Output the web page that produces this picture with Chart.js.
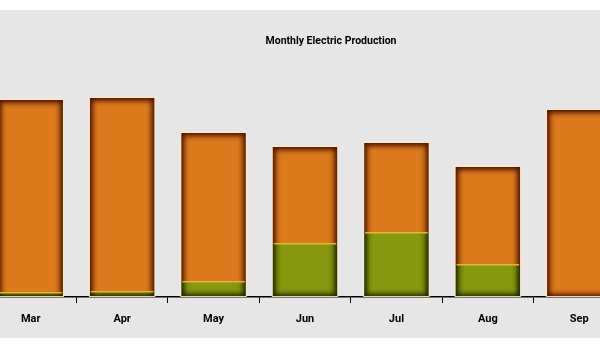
<!DOCTYPE html>
<html>
<head>
<meta charset="utf-8">
<script src="https://cdn.jsdelivr.net/npm/chart.js@4"></script>
<style>
  body { margin: 0; background: #ffffff; overflow: hidden; }
  #wrap { position: absolute; left: 0; top: 10px; width: 600px; height: 328px; background: #e6e6e6; overflow: hidden; }
  #myChart { position: absolute; left: -15px; top: 0; }
</style>
</head>
<body>
<div id="wrap"><canvas id="myChart" width="692" height="328"></canvas></div>
<script>
// monthly production, kWh
const months = ["Mar", "Apr", "May", "Jun", "Jul", "Aug", "Sep"];
const solar = [20, 25, 75, 265, 320, 160, 0];
const grid = [965, 970, 745, 485, 450, 490, 935];
const yMax = 1200;

const orange = "#dd7a1e";
const green = "#86980f";
const labelFont = { family: "Roboto, sans-serif", size: 11, weight: "bold" };

// draws a dark inner edge inside a rect; open side is left without shadow
function edge(ctx, left, top, w, h, color, open) {
  if (h <= 0) return;
  let t = open === "top" ? top - 60 : top - 4;
  let b = open === "bottom" ? top + h + 60 : top + h + 4;
  ctx.save();
  ctx.beginPath();
  ctx.rect(left, top, w, h);
  ctx.clip();
  ctx.shadowColor = color;
  ctx.shadowBlur = 7;
  ctx.lineWidth = 8;
  ctx.strokeStyle = color;
  for (let k = 0; k < 3; k++) {
    ctx.strokeRect(left - 4, t, w + 8, b - t);
  }
  ctx.restore();
}

const innerShadow = {
  id: "innerShadow",
  afterDatasetsDraw(chart) {
    let ctx = chart.ctx;
    let low = chart.getDatasetMeta(0).data;
    let high = chart.getDatasetMeta(1).data;
    low.forEach((bar, i) => {
      let left = bar.x - bar.width / 2;
      let w = bar.width;
      let top = high[i].y;
      let gh = bar.base - bar.y;

      edge(ctx, left, top, w, high[i].base - top, "#4e1400", gh > 1 ? "bottom" : "");
      edge(ctx, left, bar.y, w, gh, "#1c2400", "top");

      // yellow seam between the two parts
      if (gh > 1) {
        ctx.save();
        ctx.fillStyle = "#e3b531";
        ctx.fillRect(left + 1, bar.y - 1, w - 2, 1.5);
        ctx.restore();
      }

      // light rim
      ctx.save();
      ctx.strokeStyle = "rgba(255,236,196,0.9)";
      ctx.lineWidth = 1;
      ctx.strokeRect(left - 0.5, top - 0.5, w + 1, bar.base - top);
      ctx.restore();
    });
  }
};

const config = {
  type: "bar",
  data: {
    labels: months,
    datasets: [
      { label: "Solar", data: solar, backgroundColor: green, borderWidth: 0 },
      { label: "Grid", data: grid, backgroundColor: orange, borderWidth: 0 }
    ]
  },
  options: {
    responsive: false,
    animation: false,
    events: [],
    layout: { padding: 0 },
    datasets: { bar: { categoryPercentage: 1, barPercentage: 0.705 } },
    plugins: {
      legend: { display: false },
      tooltip: { enabled: false },
      title: {
        display: true,
        text: "Monthly Electric Production",
        color: "#000000",
        font: { family: labelFont.family, size: 10.5, weight: "bold" },
        padding: { top: 25.5, bottom: 8.9 }
      }
    },
    scales: {
      x: {
        stacked: true,
        z: 1,
        grid: { display: true, drawOnChartArea: false, drawTicks: true, tickLength: 6, color: "#000000", lineWidth: 1 },
        border: { display: true, color: "#000000", width: 1.5 },
        ticks: { color: "#000000", font: labelFont, padding: 10, maxRotation: 0 },
        afterFit: (scale) => { scale.height = 41; }
      },
      y: {
        stacked: true,
        position: "right",
        min: 0,
        max: yMax,
        grid: { display: false },
        border: { display: false },
        ticks: { display: false },
        afterFit: (scale) => { scale.width = 52; }
      }
    }
  },
  plugins: [innerShadow]
};

let myChart = new Chart(document.getElementById("myChart"), config);
</script>
</body>
</html>
